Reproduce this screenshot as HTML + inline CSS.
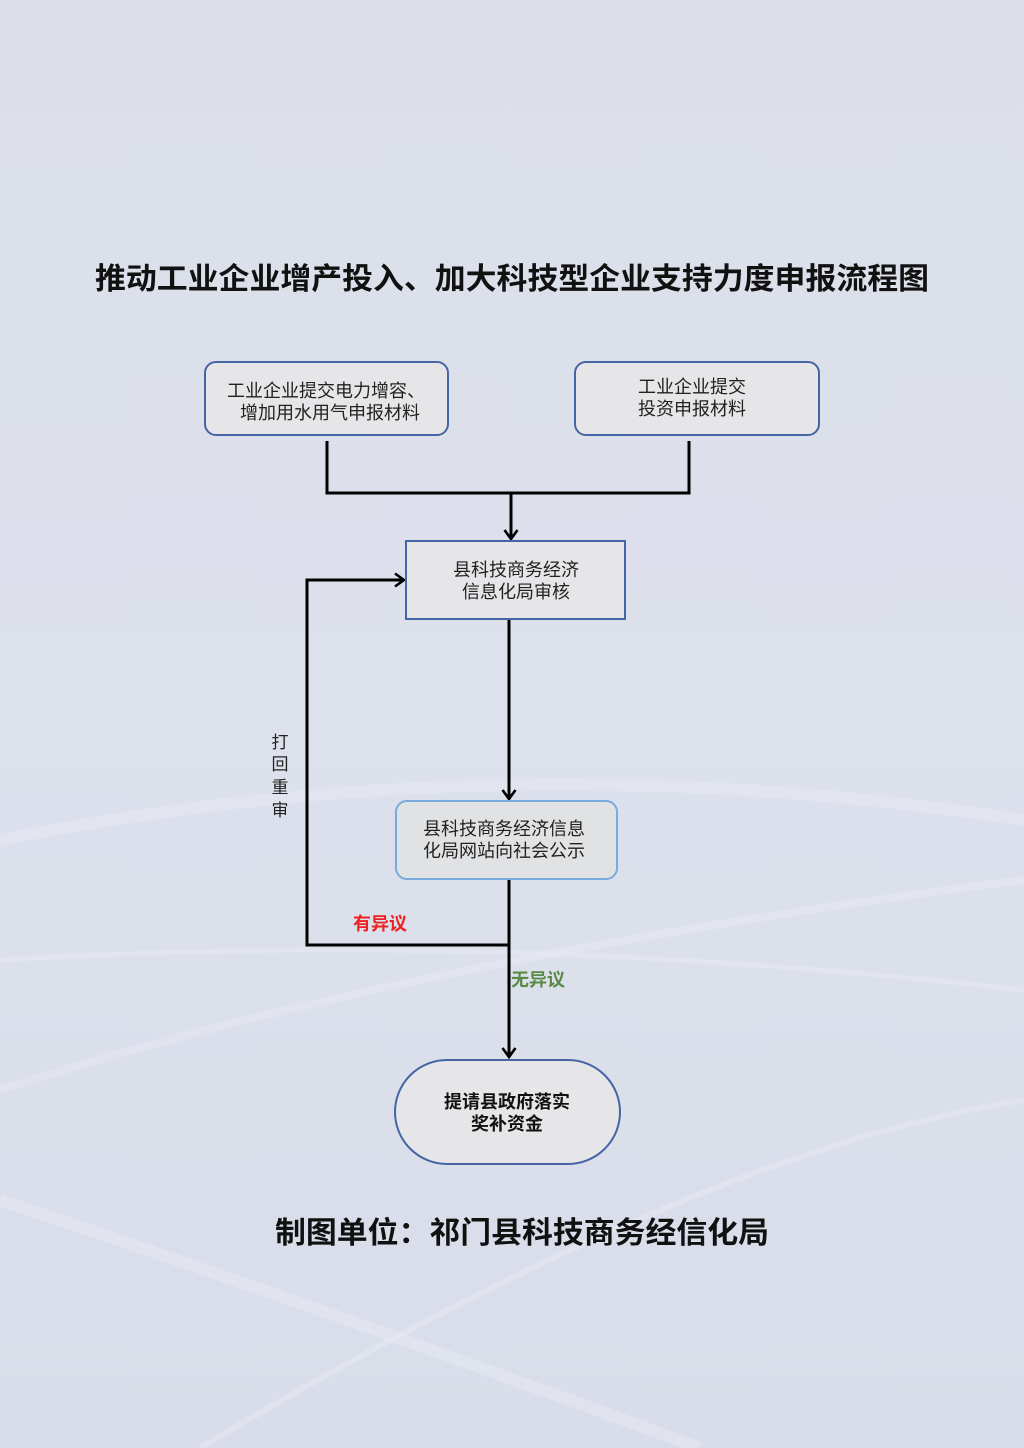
<!DOCTYPE html>
<html><head><meta charset="utf-8">
<style>
html,body{margin:0;padding:0;width:1024px;height:1448px;overflow:hidden;background:#dde0eb;}
svg{display:block}
text{font-family:"Liberation Sans","Noto Sans CJK SC",sans-serif;}
</style></head><body>
<svg width="1024" height="1448" viewBox="0 0 1024 1448" xmlns="http://www.w3.org/2000/svg">
<defs>
<linearGradient id="bg" x1="0" y1="0" x2="0" y2="1">
<stop offset="0" stop-color="#dcdfea"/><stop offset="0.5" stop-color="#dde1ec"/><stop offset="1" stop-color="#d9dde9"/>
</linearGradient>
<marker id="ar" markerWidth="16" markerHeight="16" refX="11" refY="8" orient="auto" markerUnits="userSpaceOnUse">
<path d="M2,1.5 L11,8 L2,14.5" fill="none" stroke="#000" stroke-width="2.6"/>
</marker>
</defs>
<rect width="1024" height="1448" fill="url(#bg)"/>
<g fill="none" stroke="#e8ebf4" stroke-opacity="0.45">
<path d="M0,840 Q500,740 1024,820" stroke-width="12"/>
<path d="M0,1090 Q400,960 1024,880" stroke-width="8"/>
<path d="M0,1200 Q300,1300 700,1448" stroke-width="12"/>
<path d="M200,1448 Q700,1150 1024,1100" stroke-width="6"/>
<path d="M0,960 Q500,930 1024,990" stroke-width="5"/>
</g>
<text x="512" y="289" font-size="30" font-weight="bold" text-anchor="middle" textLength="834" lengthAdjust="spacingAndGlyphs" fill="#111">推动工业企业增产投入、加大科技型企业支持力度申报流程图</text>

<rect x="205" y="362" width="243" height="73" rx="11" fill="#e6e6e9" stroke="#4565a5" stroke-width="2"/>
<text font-size="18" fill="#222" text-anchor="middle"><tspan x="326" y="397">工业企业提交电力增容、</tspan><tspan x="330" y="419">增加用水用气申报材料</tspan></text>
<rect x="575" y="362" width="244" height="73" rx="11" fill="#e6e6e9" stroke="#4565a5" stroke-width="2"/>
<text font-size="18" fill="#222" text-anchor="middle"><tspan x="692" y="393">工业企业提交</tspan><tspan x="692" y="415">投资申报材料</tspan></text>

<g stroke="#000" stroke-width="3" fill="none">
<path d="M327,441 V493 H689 V441"/>
<path d="M511,493 V539" marker-end="url(#ar)"/>
<path d="M509,619 V799" marker-end="url(#ar)"/>
<path d="M509,879 V1057" marker-end="url(#ar)"/>
<path d="M509,945 H307 V580 H404" marker-end="url(#ar)"/>
</g>

<rect x="406" y="541" width="219" height="78" fill="#e6e6e9" stroke="#4565a5" stroke-width="2"/>
<text font-size="18" fill="#222" text-anchor="middle"><tspan x="516" y="576">县科技商务经济</tspan><tspan x="516" y="598">信息化局审核</tspan></text>

<rect x="396" y="801" width="221" height="78" rx="11" fill="#e1e2e4" stroke="#77abdf" stroke-width="2"/>
<text font-size="18" fill="#222" text-anchor="middle"><tspan x="504" y="835">县科技商务经济信息</tspan><tspan x="504" y="857">化局网站向社会公示</tspan></text>

<text font-size="17" fill="#222" text-anchor="middle"><tspan x="280" y="748">打</tspan><tspan x="280" y="770">回</tspan><tspan x="280" y="793">重</tspan><tspan x="280" y="816">审</tspan></text>
<text x="380" y="930" font-size="18" font-weight="bold" fill="#ee2222" text-anchor="middle">有异议</text>
<text x="538" y="986" font-size="18" font-weight="bold" fill="#5a8a45" text-anchor="middle">无异议</text>

<rect x="395" y="1060" width="225" height="104" rx="52" fill="#e6e6e9" stroke="#4565a5" stroke-width="2"/>
<text font-size="18" font-weight="bold" fill="#111" text-anchor="middle"><tspan x="507" y="1108">提请县政府落实</tspan><tspan x="507" y="1130">奖补资金</tspan></text>

<text x="522" y="1243" font-size="30" font-weight="bold" text-anchor="middle" textLength="494" lengthAdjust="spacingAndGlyphs" fill="#111">制图单位：祁门县科技商务经信化局</text>
</svg>
</body></html>
